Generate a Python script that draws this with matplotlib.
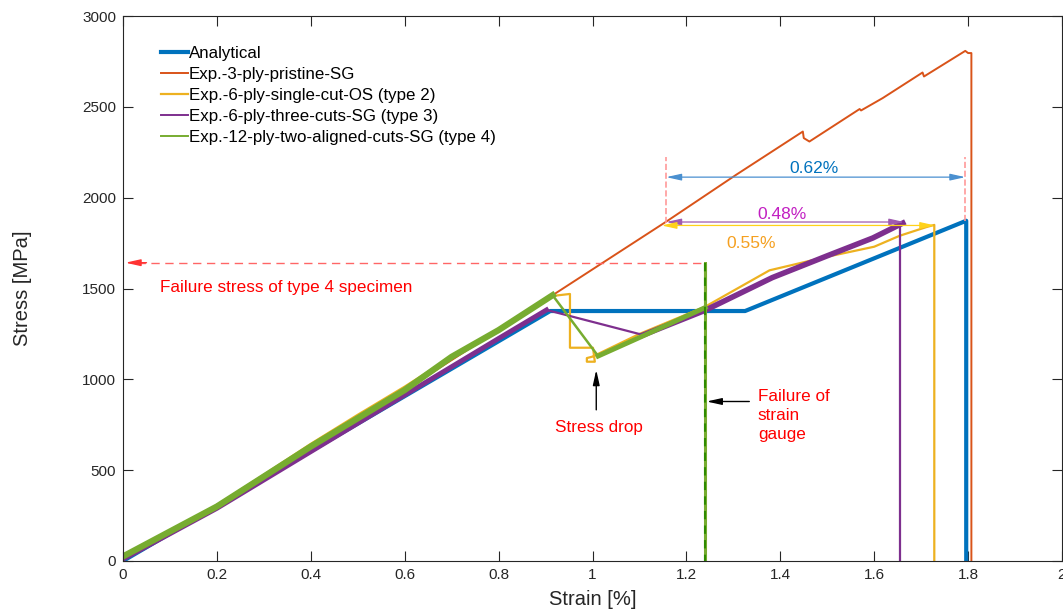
import matplotlib
matplotlib.use("Agg")
import matplotlib.pyplot as plt

plt.rcParams['font.family'] = ['Liberation Sans', 'DejaVu Sans']

# ---- data (strain in %, stress in MPa) ----
analytical_x = [0, 0.91, 1.325, 1.796, 1.796]
analytical_y = [0, 1376, 1376, 1873, 0]

pristine_x = [0, 0.2, 0.4, 0.6, 0.8, 0.915, 1.157, 1.306, 1.448, 1.450, 1.462,
              1.569, 1.572, 1.618, 1.703, 1.706, 1.794, 1.800, 1.807, 1.807]
pristine_y = [20, 300, 630, 940, 1272, 1463, 1868, 2126, 2364, 2328, 2309,
              2488, 2480, 2548, 2689, 2667, 2808, 2796, 2796, 0]

type2_x = [0, 0.2, 0.3, 0.4, 0.5, 0.6, 0.7, 0.8, 0.915, 0.952, 0.952, 1.001, 1.005,
           0.988, 0.988, 1.0, 1.1, 1.24, 1.377, 1.5, 1.6, 1.654, 1.711, 1.728, 1.728]
type2_y = [20, 308, 475, 645, 805, 960, 1125, 1278, 1459, 1470, 1174, 1174, 1097,
           1097, 1117, 1125, 1250, 1400, 1600, 1675, 1730, 1790, 1838, 1850, 0]

type3_x = [0, 0.2, 0.4, 0.6, 0.8, 0.902, 1.108, 1.24, 1.383, 1.5, 1.597, 1.661, 1.655, 1.655]
type3_y = [10, 290, 602, 914, 1225, 1382, 1244, 1380, 1560, 1680, 1778, 1860, 1860, 0]

type4_x = [0, 0.2, 0.4, 0.6, 0.7, 0.8, 0.915, 1.012, 1.1, 1.24, 1.24, 1.24]
type4_y = [25, 300, 630, 941, 1124, 1271, 1463, 1128, 1230, 1395, 1640, 0]

labels = ['Analytical', 'Exp.-3-ply-pristine-SG', 'Exp.-6-ply-single-cut-OS (type 2)',
          'Exp.-6-ply-three-cuts-SG (type 3)', 'Exp.-12-ply-two-aligned-cuts-SG (type 4)']

c_blue = '#0072BD'
c_orange = '#D95319'
c_yellow = '#EDB120'
c_purple = '#7E2F8E'
c_green = '#77AC30'

fig = plt.figure(figsize=(10.63, 6.12), dpi=100)
ax = fig.add_axes([123/1063, 1 - 561/612, 939/1063, 545/612])

ax.plot(analytical_x, analytical_y, color=c_blue, lw=3, label=labels[0])
ax.plot(pristine_x, pristine_y, color=c_orange, lw=1.4, label=labels[1])
ax.plot(type2_x, type2_y, color=c_yellow, lw=1.6, label=labels[2])
# type 3: noisy data drawn thick, jumps drawn thin
ax.plot(type3_x[:6], type3_y[:6], color=c_purple, lw=3.5)
ax.plot(type3_x[6:12], type3_y[6:12], color=c_purple, lw=4)
ax.plot(type3_x[5:7], type3_y[5:7], color=c_purple, lw=1.6)
ax.plot(type3_x[11:], type3_y[11:], color=c_purple, lw=1.6)
ax.plot([], [], color=c_purple, lw=1.4, label=labels[3])
# type 4
ax.plot(type4_x[:7], type4_y[:7], color=c_green, lw=4.5)
ax.plot(type4_x[6:8], type4_y[6:8], color=c_green, lw=1.8)
ax.plot(type4_x[7:10], type4_y[7:10], color=c_green, lw=3.5)
ax.plot(type4_x[9:], type4_y[9:], color=c_green, lw=2.2)
ax.plot([], [], color=c_green, lw=1.4, label=labels[4])
# dashed overlay on the strain-gauge failure line
ax.plot(type4_x[-2:], type4_y[-2:], color='#2E8B00', lw=1.5, ls=(0, (4, 3)))

# strain difference arrows
pink = '#FF9999'
ax.plot([1.157, 1.157], [1860, 2225], color=pink, lw=1.2, ls='--')
ax.plot([1.794, 1.794], [1873, 2225], color=pink, lw=1.2, ls='--')

def harrow(x0, x1, y, col):
    ax.annotate('', xy=(x0, y), xytext=(x1, y),
                arrowprops=dict(arrowstyle='<|-|>,head_length=0.9,head_width=0.2',
                                color=col, lw=0.9, shrinkA=0, shrinkB=0))

harrow(1.157, 1.794, 2113, '#4A90D0')
harrow(1.157, 1.664, 1866, '#A05AB0')
harrow(1.147, 1.73, 1847, '#FFD21A')
ax.text(1.472, 2163, '0.62%', color=c_blue, fontsize=12.5, ha='center', va='center')
ax.text(1.404, 1906, '0.48%', color='#C21FC2', fontsize=12.5, ha='center', va='center')
ax.text(1.338, 1745, '0.55%', color='#F5A020', fontsize=12.5, ha='center', va='center')

# failure stress of type 4
ax.plot([0.03, 1.24], [1642, 1642], color='#FF6666', lw=1, ls=(0, (6, 4)))
ax.annotate('', xy=(0.005, 1642), xytext=(0.05, 1642),
            arrowprops=dict(arrowstyle='-|>,head_length=0.9,head_width=0.2',
                            color='#FF3333', lw=1, shrinkA=0, shrinkB=0))
ax.text(0.078, 1503, 'Failure stress of type 4 specimen', color='red', fontsize=12.3,
        ha='left', va='center')

# stress drop
ax.annotate('', xy=(1.008, 1052), xytext=(1.008, 832),
            arrowprops=dict(arrowstyle='-|>,head_length=0.9,head_width=0.2',
                            color='black', lw=1, shrinkA=0, shrinkB=0))
ax.text(1.013, 737, 'Stress drop', color='red', fontsize=12.3, ha='center', va='center')

# strain gauge failure
ax.annotate('', xy=(1.243, 878), xytext=(1.334, 878),
            arrowprops=dict(arrowstyle='-|>,head_length=0.9,head_width=0.2',
                            color='black', lw=1, shrinkA=0, shrinkB=0))
ax.text(1.352, 802, 'Failure of\nstrain\ngauge', color='red', fontsize=12.3,
        ha='left', va='center', linespacing=1.35)

ax.set_xlim(0, 2)
ax.set_ylim(0, 3000)
ax.set_xticks([0, 0.2, 0.4, 0.6, 0.8, 1, 1.2, 1.4, 1.6, 1.8, 2])
ax.set_xticklabels(['0', '0.2', '0.4', '0.6', '0.8', '1', '1.2', '1.4', '1.6', '1.8', '2'])
ax.set_yticks([0, 500, 1000, 1500, 2000, 2500, 3000])
ax.tick_params(direction='in', length=7, width=0.8, top=True, right=True,
               labelsize=11, colors='#262626', pad=5)
for s in ax.spines.values():
    s.set_color('#262626')
    s.set_linewidth(0.8)
ax.set_xlabel('Strain [%]', fontsize=14.5, color='#262626', labelpad=6)
ax.set_ylabel('Stress [MPa]', fontsize=14.5, color='#262626', labelpad=36)

ax.legend(loc='upper left', bbox_to_anchor=(0.033, 0.958), frameon=False, fontsize=12.2,
          handlelength=1.6, handletextpad=0.05, labelspacing=0.36, borderaxespad=0)

fig.savefig('out.png', dpi=100)
